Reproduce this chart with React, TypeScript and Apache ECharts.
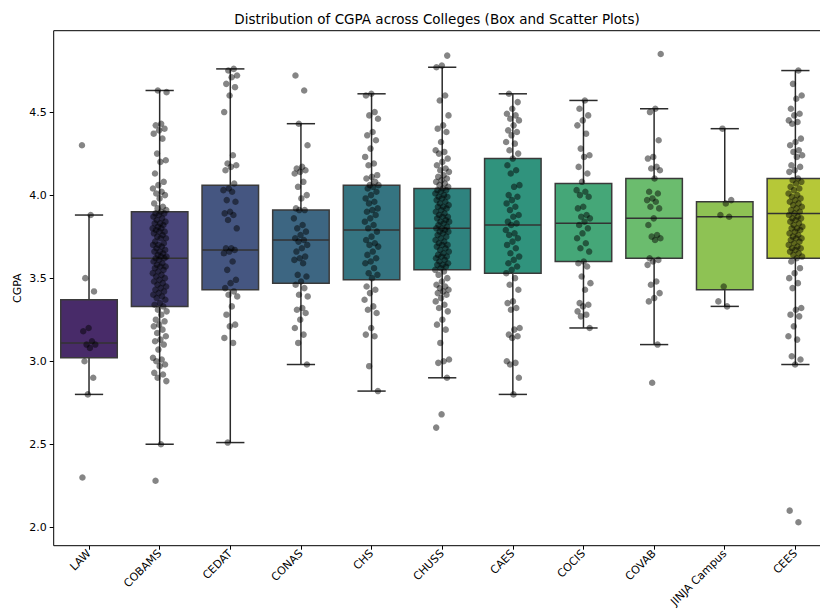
import React, { useEffect, useRef } from "react";
import * as echarts from "echarts";

// Colleges along the x axis
const colleges = [
  "LAW", "COBAMS", "CEDAT", "CONAS", "CHS", "CHUSS",
  "CAES", "COCIS", "COVAB", "JINJA Campus", "CEES",
];

// Box statistics per college (whisker ends, quartiles, median)
const whiskerLow = [2.80, 2.50, 2.51, 2.98, 2.82, 2.90, 2.80, 3.20, 3.10, 3.33, 2.98];
const q1 = [3.02, 3.33, 3.43, 3.47, 3.49, 3.55, 3.53, 3.60, 3.62, 3.43, 3.62];
const median = [3.11, 3.62, 3.67, 3.73, 3.79, 3.80, 3.82, 3.83, 3.86, 3.87, 3.89];
const q3 = [3.37, 3.90, 4.06, 3.91, 4.06, 4.04, 4.22, 4.07, 4.10, 3.96, 4.10];
const whiskerHigh = [3.88, 4.63, 4.76, 4.43, 4.61, 4.77, 4.61, 4.57, 4.52, 4.40, 4.75];

// Individual student CGPAs per college
const lawCgpa = [4.30, 3.88, 3.50, 3.42, 3.20, 3.18, 3.12, 3.10, 3.10, 3.08, 3.00, 2.90, 2.80, 2.30];
const cobamsCgpa = [
  4.63, 4.62, 4.43, 4.42, 4.40, 4.39, 4.37, 4.34, 4.25, 4.21, 4.20, 4.13, 4.08, 4.06, 4.04,
  4.02, 4.01, 4.00, 3.98, 3.95, 3.93, 3.92, 3.91, 3.90, 3.89, 3.89, 3.88, 3.87, 3.86, 3.85,
  3.84, 3.83, 3.83, 3.82, 3.81, 3.80, 3.80, 3.79, 3.78, 3.78, 3.77, 3.76, 3.75, 3.74, 3.74,
  3.72, 3.71, 3.70, 3.70, 3.69, 3.68, 3.67, 3.66, 3.66, 3.65, 3.64, 3.63, 3.63, 3.62, 3.62,
  3.61, 3.60, 3.59, 3.58, 3.57, 3.57, 3.56, 3.55, 3.54, 3.53, 3.52, 3.51, 3.50, 3.49, 3.48,
  3.47, 3.46, 3.45, 3.44, 3.43, 3.42, 3.41, 3.40, 3.39, 3.38, 3.37, 3.35, 3.34, 3.33, 3.31,
  3.30, 3.28, 3.25, 3.24, 3.22, 3.21, 3.19, 3.17, 3.15, 3.13, 3.12, 3.10, 3.07, 3.02, 3.01,
  3.00, 2.98, 2.97, 2.93, 2.92, 2.90, 2.88, 2.50, 2.28,
];
const cedatCgpa = [
  4.76, 4.75, 4.72, 4.71, 4.67, 4.65, 4.60, 4.50, 4.24, 4.19, 4.18, 4.17, 4.15, 4.07, 4.04,
  4.03, 4.02, 3.97, 3.96, 3.90, 3.89, 3.88, 3.85, 3.80, 3.68, 3.68, 3.67, 3.66, 3.65, 3.60,
  3.55, 3.49, 3.47, 3.44, 3.42, 3.40, 3.39, 3.33, 3.28, 3.22, 3.21, 3.14, 3.11, 2.51,
];
const conasCgpa = [
  4.72, 4.63, 4.43, 4.30, 4.17, 4.16, 4.15, 4.14, 4.13, 4.08, 4.05, 4.00, 3.98, 3.92, 3.91,
  3.91, 3.86, 3.82, 3.80, 3.78, 3.76, 3.74, 3.73, 3.72, 3.70, 3.68, 3.66, 3.63, 3.62, 3.61,
  3.59, 3.52, 3.51, 3.48, 3.46, 3.44, 3.40, 3.39, 3.32, 3.31, 3.29, 3.25, 3.20, 3.16, 3.11, 2.98,
];
const chsCgpa = [
  4.61, 4.60, 4.50, 4.48, 4.46, 4.38, 4.36, 4.33, 4.28, 4.23, 4.19, 4.18, 4.12, 4.11, 4.10,
  4.08, 4.06, 4.06, 4.05, 4.04, 4.02, 4.00, 3.98, 3.96, 3.95, 3.92, 3.91, 3.90, 3.88, 3.86,
  3.84, 3.82, 3.80, 3.78, 3.75, 3.73, 3.71, 3.70, 3.69, 3.66, 3.64, 3.62, 3.60, 3.59, 3.56,
  3.53, 3.52, 3.50, 3.45, 3.43, 3.41, 3.37, 3.33, 3.31, 3.29, 3.20, 3.16, 3.15, 2.97, 2.82,
];
const chussCgpa = [
  4.84, 4.78, 4.77, 4.60, 4.57, 4.48, 4.42, 4.40, 4.38, 4.32, 4.27, 4.26, 4.25, 4.22, 4.20,
  4.18, 4.16, 4.15, 4.14, 4.12, 4.11, 4.10, 4.09, 4.08, 4.07, 4.06, 4.05, 4.04, 4.03, 4.03,
  4.02, 4.01, 4.00, 3.99, 3.99, 3.98, 3.97, 3.96, 3.95, 3.94, 3.93, 3.93, 3.92, 3.91, 3.90,
  3.89, 3.88, 3.87, 3.87, 3.86, 3.85, 3.84, 3.84, 3.83, 3.82, 3.81, 3.80, 3.80, 3.79, 3.78,
  3.78, 3.77, 3.76, 3.75, 3.74, 3.73, 3.72, 3.71, 3.70, 3.70, 3.69, 3.68, 3.67, 3.66, 3.65,
  3.64, 3.63, 3.63, 3.62, 3.61, 3.60, 3.59, 3.58, 3.58, 3.57, 3.56, 3.55, 3.54, 3.52, 3.50,
  3.48, 3.46, 3.45, 3.44, 3.43, 3.42, 3.41, 3.40, 3.38, 3.36, 3.34, 3.32, 3.30, 3.25, 3.22,
  3.19, 3.11, 3.01, 3.00, 2.99, 2.90, 2.68, 2.60,
];
const caesCgpa = [
  4.61, 4.56, 4.52, 4.49, 4.48, 4.46, 4.45, 4.42, 4.39, 4.38, 4.36, 4.32, 4.31, 4.27, 4.25,
  4.22, 4.18, 4.15, 4.13, 4.06, 4.05, 4.00, 3.99, 3.97, 3.95, 3.93, 3.91, 3.88, 3.87, 3.84,
  3.83, 3.82, 3.79, 3.77, 3.76, 3.74, 3.72, 3.70, 3.68, 3.65, 3.63, 3.61, 3.59, 3.57, 3.55,
  3.53, 3.50, 3.46, 3.43, 3.36, 3.35, 3.32, 3.31, 3.20, 3.19, 3.16, 3.15, 3.14, 3.00, 2.99,
  2.98, 2.90, 2.80,
];
const cocisCgpa = [
  4.57, 4.52, 4.48, 4.45, 4.42, 4.37, 4.28, 4.24, 4.23, 4.17, 4.13, 4.08, 4.03, 4.02, 4.00,
  3.99, 3.93, 3.92, 3.88, 3.87, 3.86, 3.84, 3.82, 3.80, 3.77, 3.74, 3.71, 3.68, 3.66, 3.60,
  3.59, 3.57, 3.51, 3.47, 3.43, 3.35, 3.34, 3.33, 3.30, 3.28, 3.27, 3.20,
];
const covabCgpa = [
  4.85, 4.52, 4.50, 4.33, 4.23, 4.22, 4.17, 4.16, 4.15, 4.10, 4.02, 4.01, 3.98, 3.97, 3.96,
  3.93, 3.92, 3.86, 3.82, 3.76, 3.75, 3.74, 3.73, 3.62, 3.61, 3.60, 3.58, 3.48, 3.46, 3.41,
  3.38, 3.36, 3.10, 2.87,
];
const jinjaCgpa = [4.40, 3.97, 3.95, 3.88, 3.87, 3.45, 3.36, 3.33];
const ceesCgpa = [
  4.75, 4.67, 4.60, 4.58, 4.52, 4.49, 4.48, 4.45, 4.44, 4.43, 4.34, 4.32, 4.30, 4.27, 4.26,
  4.24, 4.23, 4.18, 4.17, 4.15, 4.14, 4.10, 4.09, 4.08, 4.07, 4.05, 4.04, 4.03, 4.01, 4.00,
  3.99, 3.98, 3.97, 3.96, 3.95, 3.94, 3.93, 3.92, 3.91, 3.90, 3.89, 3.88, 3.87, 3.86, 3.86,
  3.85, 3.84, 3.83, 3.82, 3.81, 3.80, 3.80, 3.79, 3.78, 3.77, 3.76, 3.75, 3.74, 3.74, 3.73,
  3.72, 3.71, 3.70, 3.69, 3.68, 3.68, 3.67, 3.66, 3.65, 3.64, 3.63, 3.62, 3.60, 3.56, 3.53,
  3.50, 3.47, 3.44, 3.32, 3.31, 3.28, 3.27, 3.21, 3.15, 3.13, 3.03, 3.01, 2.98, 2.10, 2.03,
];

const pointsByCollege = [
  lawCgpa, cobamsCgpa, cedatCgpa, conasCgpa, chsCgpa, chussCgpa,
  caesCgpa, cocisCgpa, covabCgpa, jinjaCgpa, ceesCgpa,
];

// Y-axis tick labels
const yTicks = [2.0, 2.5, 3.0, 3.5, 4.0, 4.5];

// Viridis-based box fills, slightly desaturated
const boxColors = [
  "#482b69", "#4a467b", "#455681", "#3d6682", "#357481", "#2f837f",
  "#30937d", "#45a778", "#6bbc6e", "#8ec254", "#b6c838",
];

const FONT = "DejaVu Sans, sans-serif";
const LINE = "#2b2b2b";

export default function App() {
  const ref = useRef<HTMLDivElement>(null);

  useEffect(() => {
    if (!ref.current) return;
    const chart = echarts.init(ref.current, null, { renderer: "svg" });

    const boxData = colleges.map((_, i) => [
      i, whiskerLow[i], q1[i], median[i], q3[i], whiskerHigh[i],
    ]);

    // Strip points with a small, deterministic horizontal spread
    const scatterData: number[][] = [];
    pointsByCollege.forEach((vals, c) => {
      vals.forEach((v, k) => {
        const frac = (k * 0.6180339887 + c * 0.371) % 1;
        scatterData.push([c + (frac - 0.5) * 0.2, v]);
      });
    });

    const renderBox = (params: any, api: any) => {
      const i = api.value(0);
      const lo = api.coord([i, api.value(1)]);
      const b1 = api.coord([i, api.value(2)]);
      const md = api.coord([i, api.value(3)]);
      const b3 = api.coord([i, api.value(4)]);
      const hi = api.coord([i, api.value(5)]);
      const w = api.size([1, 0])[0] * 0.8;
      const cx = lo[0];
      const cap = w / 4;
      const lineStyle = { stroke: LINE, lineWidth: 1.5 };
      return {
        type: "group",
        children: [
          { type: "line", shape: { x1: cx, y1: lo[1], x2: cx, y2: b1[1] }, style: lineStyle },
          { type: "line", shape: { x1: cx, y1: b3[1], x2: cx, y2: hi[1] }, style: lineStyle },
          { type: "line", shape: { x1: cx - cap, y1: lo[1], x2: cx + cap, y2: lo[1] }, style: lineStyle },
          { type: "line", shape: { x1: cx - cap, y1: hi[1], x2: cx + cap, y2: hi[1] }, style: lineStyle },
          {
            type: "rect",
            shape: { x: cx - w / 2, y: b3[1], width: w, height: b1[1] - b3[1] },
            style: { fill: boxColors[i], stroke: "#3a3a3a", lineWidth: 1.5 },
          },
          { type: "line", shape: { x1: cx - w / 2, y1: md[1], x2: cx + w / 2, y2: md[1] }, style: { stroke: "#333", lineWidth: 1.5 } },
        ],
      };
    };

    chart.setOption({
      animation: false,
      backgroundColor: "#fff",
      graphic: [
        {
          type: "text",
          x: 437,
          y: 19,
          style: {
            text: "Distribution of CGPA across Colleges (Box and Scatter Plots)",
            font: `13.5px ${FONT}`,
            fill: "#000",
            textAlign: "center",
            textVerticalAlign: "middle",
          },
        },
      ],
      grid: {
        left: 53.7,
        top: 30.7,
        width: 777,
        height: 515,
        containLabel: false,
        outerBoundsMode: "none",
        show: true,
        borderColor: "#000",
        borderWidth: 1,
        backgroundColor: "transparent",
      },
      xAxis: [
        {
          type: "category",
          data: colleges,
          boundaryGap: true,
          axisLine: { show: false, onZero: false },
          axisTick: { show: true, alignWithLabel: true, length: 4, lineStyle: { color: "#000" } },
          axisLabel: {
            rotate: 45,
            interval: 0,
            margin: 6,
            color: "#000",
            fontSize: 11,
            fontFamily: FONT,
          },
          splitLine: { show: false },
        },
        {
          type: "value",
          show: false,
          min: -0.5,
          max: 10.5,
          axisLine: { onZero: false },
          splitLine: { show: false },
        },
      ],
      yAxis: {
        type: "value",
        min: 1.889,
        max: 4.99,
        name: "CGPA",
        nameLocation: "middle",
        nameGap: 31,
        nameMoveOverlap: false,
        nameRotate: 90,
        nameTextStyle: { color: "#000", fontSize: 11, fontFamily: FONT },
        axisLine: { show: false, onZero: false },
        axisTick: { show: true, length: 4, customValues: yTicks, lineStyle: { color: "#000" } },
        axisLabel: {
          customValues: yTicks,
          formatter: (v: number) => v.toFixed(1),
          color: "#000",
          fontSize: 11,
          fontFamily: FONT,
          margin: 7,
        },
        splitLine: { show: false },
      },
      series: [
        {
          type: "custom",
          xAxisIndex: 1,
          renderItem: renderBox,
          data: boxData,
          encode: { x: 0, y: [1, 2, 3, 4, 5] },
          z: 2,
          silent: true,
        },
        {
          type: "scatter",
          xAxisIndex: 1,
          data: scatterData,
          symbolSize: 6.5,
          itemStyle: { color: "rgba(0,0,0,0.6)" },
          z: 3,
          silent: true,
        },
      ],
    });

    return () => chart.dispose();
  }, []);

  return (
    <div
      ref={ref}
      style={{ position: "fixed", left: 0, top: 0, width: 820, height: 616 }}
    />
  );
}
